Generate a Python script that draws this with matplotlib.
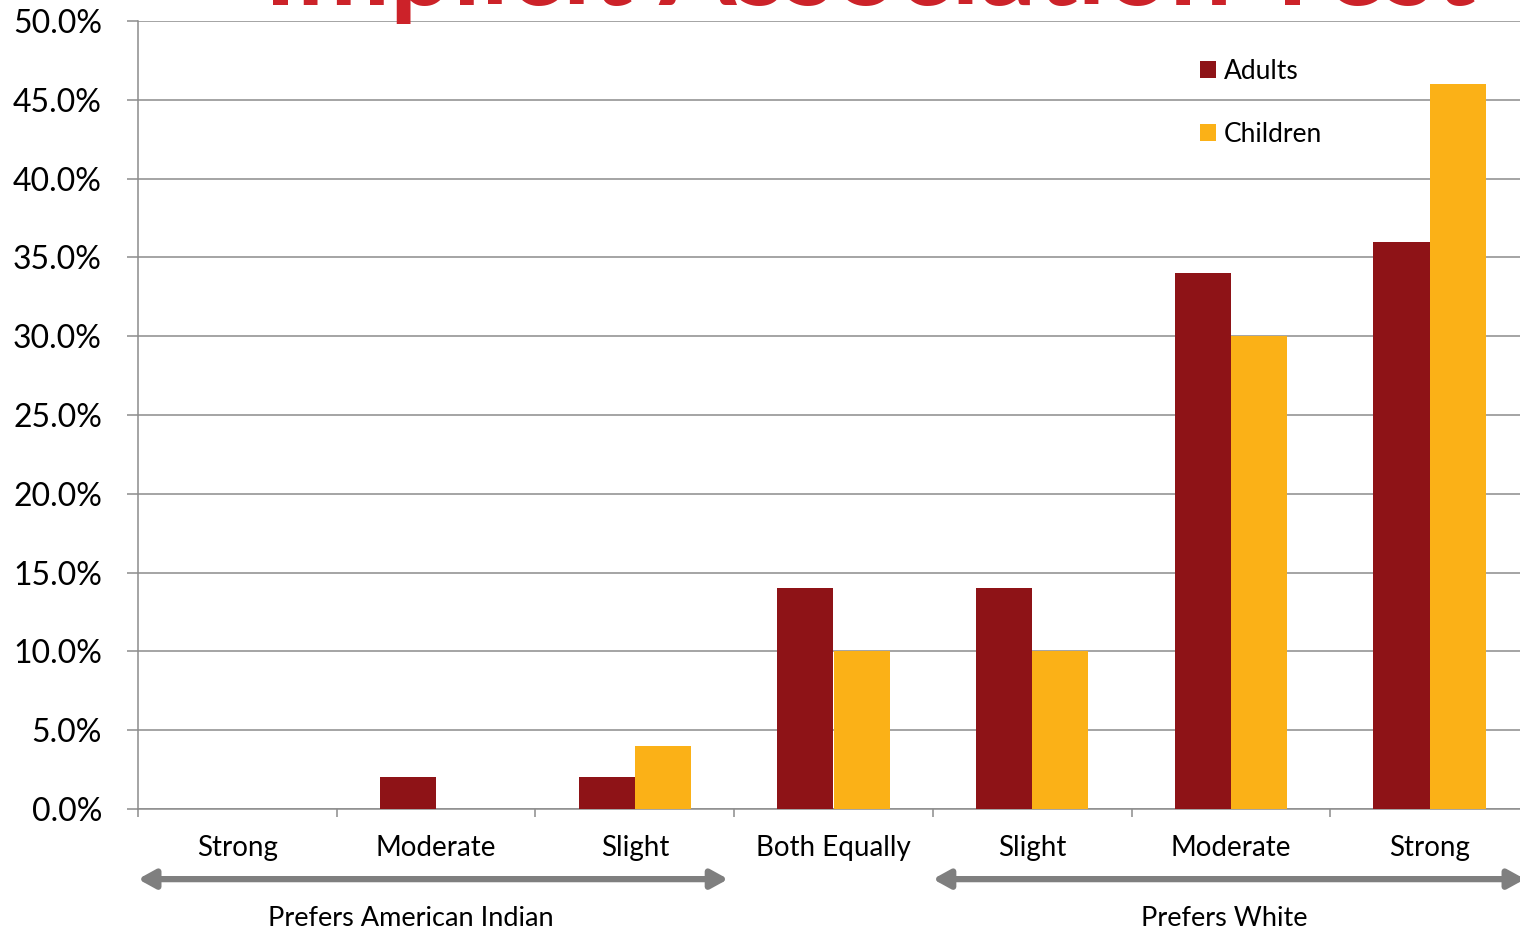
import matplotlib
matplotlib.use("Agg")
from matplotlib import pyplot as plt
from matplotlib.ticker import FixedLocator, PercentFormatter
import numpy as np

# Chart data
categories = ["Strong", "Moderate", "Slight", "Both Equally", "Slight", "Moderate", "Strong"]
adults = [0, 2, 2, 14, 14, 34, 36]
children = [0, 0, 4, 10, 10, 30, 46]
groups = ["Prefers American Indian", "Prefers White"]
title = "Implicit Association Test"

adult_color = "#8E1317"
child_color = "#FBB117"
grid_color = "#8C8C8C"
arrow_color = "#7F7F7F"

plt.rcParams["font.family"] = ["Lato", "DejaVu Sans"]

fig = plt.figure(figsize=(15.2, 9.32), dpi=100)
# axes runs a little past the right edge of the canvas
ax = fig.add_axes([138 / 1520, 123 / 932, 1391 / 1520, 788 / 932])

x = np.arange(len(categories))
w = 0.283
ax.bar(x - w / 2, adults, width=w, color=adult_color, label="Adults", zorder=3)
ax.bar(x + w / 2, children, width=w, color=child_color, label="Children", zorder=3)

ax.set_xlim(-0.5, len(categories) - 0.5)
ax.set_ylim(0, 50)
ax.yaxis.set_major_locator(FixedLocator(np.arange(0, 51, 5)))
ax.yaxis.set_major_formatter(PercentFormatter(decimals=1))
ax.yaxis.grid(True, color=grid_color, linewidth=1.1, zorder=0)

# category boundaries carry the tick marks, labels sit at the centres
ax.set_xticks(np.arange(-0.5, len(categories), 1.0))
ax.set_xticklabels([])
ax.set_xticks(x, minor=True)
ax.set_xticklabels(categories, minor=True, fontsize=20)
ax.tick_params(axis="x", which="major", length=6, color=grid_color, width=1.1)
ax.tick_params(axis="x", which="minor", length=0, pad=19)
ax.tick_params(axis="y", length=8, color=grid_color, width=1.1, labelsize=23, pad=18)

for side in ["top", "right"]:
    ax.spines[side].set_visible(False)
for side in ["left", "bottom"]:
    ax.spines[side].set_color(grid_color)
    ax.spines[side].set_linewidth(1.1)

# double-headed arrows under the categories
arrow_y = -0.089
arrow_style = "<|-|>,head_length=1.0,head_width=0.55"
ax.annotate("", xy=(-0.5, arrow_y), xytext=(2.47, arrow_y),
            xycoords=("data", "axes fraction"), textcoords=("data", "axes fraction"),
            arrowprops=dict(arrowstyle=arrow_style, color=arrow_color, lw=4.5,
                            shrinkA=0, shrinkB=0),
            annotation_clip=False)
ax.annotate("", xy=(3.5, arrow_y), xytext=(6.48, arrow_y),
            xycoords=("data", "axes fraction"), textcoords=("data", "axes fraction"),
            arrowprops=dict(arrowstyle=arrow_style, color=arrow_color, lw=4.5,
                            shrinkA=0, shrinkB=0),
            annotation_clip=False)

group_y = -0.139
ax.text(0.874, group_y, groups[0], transform=ax.get_xaxis_transform(),
        ha="center", va="center", fontsize=19.5)
ax.text(4.966, group_y, groups[1], transform=ax.get_xaxis_transform(),
        ha="center", va="center", fontsize=19.5)

ax.legend(loc="upper left", bbox_to_anchor=(1176 / 1520, 1 - 35 / 932),
          bbox_transform=fig.transFigure, frameon=False, fontsize=19,
          handlelength=0.6, handleheight=0.6, handletextpad=0.3,
          labelspacing=1.45)

# title sits mostly above the canvas
fig.text(870 / 1520, 1 - 5 / 932, title, ha="center", va="baseline",
         fontsize=80, fontweight="bold", color="#CC2229")

fig.savefig("out.png", dpi=100)
